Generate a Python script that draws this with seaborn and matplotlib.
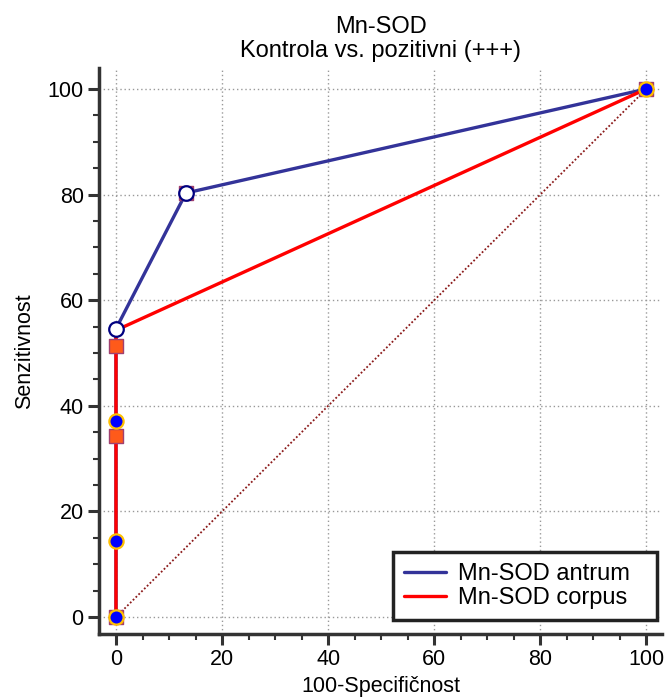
import matplotlib
matplotlib.use("Agg")
import matplotlib.pyplot as plt
import seaborn as sns
import pandas as pd

# --- DATA ---
antrum_x = [0, 0, 0, 0, 13.2, 100]
antrum_y = [0, 14.5, 37.1, 54.6, 80.3, 100]
corpus_x = [0, 0, 0, 0, 100]
corpus_y = [0, 34.3, 51.4, 54.3, 100]
# criterion points drawn as open circles
crit_x = [0, 13.2]
crit_y = [54.6, 80.3]
# square markers (corpus) shown on the plot
square_x = [0, 0, 0, 13.2, 100]
square_y = [0, 34.3, 51.4, 80.3, 100]
ticks = [0, 20, 40, 60, 80, 100]

sns.set_style("white")
plt.rcParams['font.family'] = ['Liberation Sans', 'DejaVu Sans']
plt.rcParams['text.color'] = 'black'
plt.rcParams['axes.labelcolor'] = 'black'
plt.rcParams['xtick.color'] = 'black'
plt.rcParams['ytick.color'] = 'black'

FS = 15.5

fig = plt.figure(figsize=(6.69, 6.99), dpi=100)
ax = fig.add_axes([0.148, 0.093, 0.842, 0.81])

ant = pd.DataFrame({'x': antrum_x, 'y': antrum_y})
cor = pd.DataFrame({'x': corpus_x, 'y': corpus_y})

# reference diagonal
sns.lineplot(x=[0, 100], y=[0, 100], ax=ax, color='#8b1a1a', linestyle=(0, (1, 1.2)),
             linewidth=1.3, estimator=None, sort=False, zorder=2)

sns.lineplot(data=ant, x='x', y='y', ax=ax, color='#333399', linewidth=2.4,
             estimator=None, sort=False, label='Mn-SOD antrum', zorder=3)
sns.lineplot(data=cor, x='x', y='y', ax=ax, color='#ff0000', linewidth=2.4,
             estimator=None, sort=False, label='Mn-SOD corpus', zorder=4)

# markers
sns.scatterplot(x=square_x, y=square_y, ax=ax, marker='s', s=95, color='#ff5a1a',
                edgecolor='#a04070', linewidth=1.0, zorder=5, legend=False)
blue_x = [x for x, y in zip(antrum_x, antrum_y) if (x, y) not in zip(crit_x, crit_y)]
blue_y = [y for x, y in zip(antrum_x, antrum_y) if (x, y) not in zip(crit_x, crit_y)]
sns.scatterplot(x=blue_x, y=blue_y, ax=ax, marker='o', s=105, color='#0000ff',
                edgecolor='#ffc000', linewidth=1.6, zorder=6, legend=False)
sns.scatterplot(x=crit_x, y=crit_y, ax=ax, marker='o', s=110, color='white',
                edgecolor='#000080', linewidth=1.6, zorder=7, legend=False)

ax.set_xlim(-3.2, 103)
ax.set_ylim(-3.2, 104)
ax.set_xticks(ticks)
ax.set_yticks(ticks)
ax.set_xticks(range(0, 101, 5), minor=True)
ax.set_yticks(range(0, 101, 5), minor=True)
ax.tick_params(axis='both', which='both', bottom=True, left=True)
ax.tick_params(axis='both', which='major', direction='out', length=8, width=2.2,
               color='#333333', labelsize=FS, pad=3)
ax.tick_params(axis='both', which='minor', direction='out', length=4, width=1.5,
               color='#333333')
ax.grid(True, which='major', color='#999999', linestyle=(0, (1, 2)), linewidth=1)

for side in ['top', 'right']:
    ax.spines[side].set_visible(False)
for side in ['left', 'bottom']:
    ax.spines[side].set_color('#333333')
    ax.spines[side].set_linewidth(2.5)

ax.set_xlabel("100-Specifičnost", fontsize=FS, labelpad=4)
ax.set_ylabel("Senzitivnost", fontsize=FS, labelpad=9)
ax.set_title("Mn-SOD\nKontrola vs. pozitivni (+++)", fontsize=17, pad=8, linespacing=1.1)

leg = ax.legend(loc='lower left', fontsize=17, frameon=True, fancybox=False,
                mode='expand', borderpad=0.45, handlelength=1.8, handletextpad=0.5,
                labelspacing=0.1, borderaxespad=0,
                bbox_to_anchor=(0.522, 0.025, 0.469, 0.125))
leg.get_frame().set_edgecolor('#222222')
leg.get_frame().set_linewidth(2.5)
leg.get_frame().set_alpha(1)
leg.set_zorder(10)

fig.savefig("out.png", dpi=100)
